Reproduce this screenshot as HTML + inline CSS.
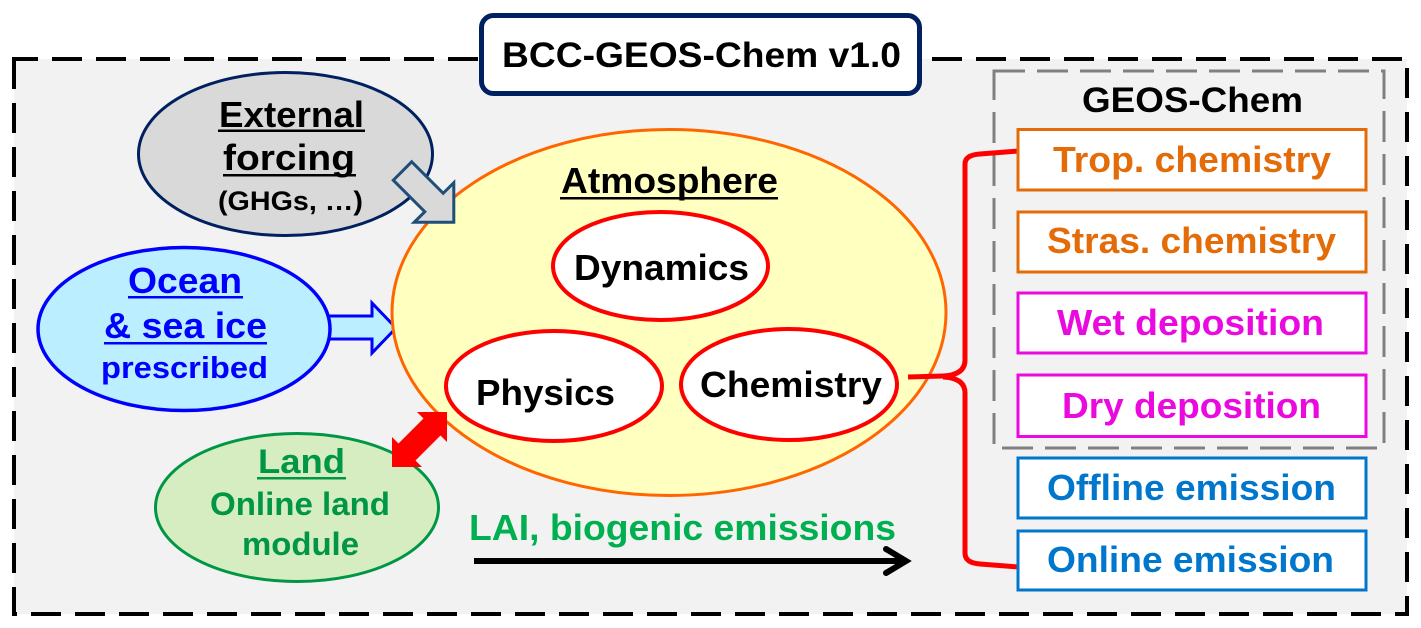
<!DOCTYPE html>
<html>
<head>
<meta charset="utf-8">
<style>
html,body{margin:0;padding:0;background:#ffffff;}
svg{display:block;}
text{font-family:"Liberation Sans",Arial,sans-serif;font-weight:bold;}
</style>
</head>
<body>
<svg width="1421" height="628" viewBox="0 0 1421 628" xmlns="http://www.w3.org/2000/svg">
  <rect x="0" y="0" width="1421" height="628" fill="#ffffff"/>
  <!-- outer dashed frame -->
  <rect x="14" y="59" width="1393" height="555" fill="#f2f2f2" stroke="#000000" stroke-width="4" stroke-dasharray="30 14" stroke-dashoffset="6"/>
  <!-- title box -->
  <rect x="481.5" y="15.5" width="438" height="78" rx="12" ry="12" fill="#ffffff" stroke="#002060" stroke-width="5"/>
  <text x="502" y="67" font-size="35" fill="#000000" textLength="399" lengthAdjust="spacingAndGlyphs">BCC-GEOS-Chem v1.0</text>

  <!-- GEOS-Chem grey dashed box -->
  <rect x="994" y="71" width="390" height="377" fill="none" stroke="#808080" stroke-width="3" stroke-dasharray="31 12"/>

  <!-- External forcing ellipse -->
  <ellipse cx="285.5" cy="154" rx="147" ry="81.5" fill="#d9d9d9" stroke="#002060" stroke-width="3"/>

  <!-- Ocean arrow -->
  <polygon points="318,316 372,316 372,303 396,328 372,353 372,339 318,339" fill="#bbeeff" stroke="#0000ff" stroke-width="3" stroke-linejoin="miter"/>
  <!-- Ocean ellipse -->
  <ellipse cx="184" cy="329" rx="146" ry="81.5" fill="#bbeeff" stroke="#0000ff" stroke-width="3.5"/>

  <!-- Atmosphere ellipse -->
  <ellipse cx="669" cy="312.5" rx="277" ry="183" fill="#ffffc0" stroke="#ff6600" stroke-width="3"/>

  <!-- forcing block arrow -->
  <polygon points="411.7,161.8 443.2,193.3 453.8,182.7 453.8,222.3 414.2,222.3 424.8,211.7 393.3,180.2" fill="#d9d9d9" stroke="#1f4e79" stroke-width="3" stroke-linejoin="miter"/>

  <!-- inner ellipses -->
  <ellipse cx="660.5" cy="266" rx="107.5" ry="54" fill="#ffffff" stroke="#ff0000" stroke-width="4"/>
  <ellipse cx="554" cy="386" rx="108" ry="55" fill="#ffffff" stroke="#ff0000" stroke-width="4"/>
  <ellipse cx="789" cy="384.5" rx="108" ry="55.5" fill="#ffffff" stroke="#ff0000" stroke-width="4"/>

  <!-- Land ellipse -->
  <ellipse cx="297" cy="507.5" rx="141.5" ry="74" fill="#d6edc1" stroke="#009646" stroke-width="3"/>

  <!-- red double arrow -->
  <polygon points="447,412 447,442 440.5,435.5 415.5,460.5 422,467 392,467 392,437 398.5,443.5 423.5,418.5 417,412" fill="#ff0000"/>

  <!-- red brace connector -->
  <g fill="none" stroke="#ff0000" stroke-width="5" stroke-linecap="butt" stroke-linejoin="round">
    <path d="M 908 377 L 943 376 Q 965 375 965 360 L 965 164 Q 965 155 980 154 L 1018 151"/>
    <path d="M 943 377 Q 965 378 965 393 L 965 553 Q 965 563 980 564 L 1018 567"/>
  </g>

  <!-- GEOS-Chem component boxes -->
  <rect x="1018" y="129.5" width="348" height="60.5" fill="#ffffff" stroke="#e36c09" stroke-width="3"/>
  <rect x="1018" y="212" width="348" height="60" fill="#ffffff" stroke="#e36c09" stroke-width="3"/>
  <rect x="1018" y="293" width="348" height="60" fill="#ffffff" stroke="#ea0ae0" stroke-width="3"/>
  <rect x="1018" y="375" width="348" height="61.5" fill="#ffffff" stroke="#ea0ae0" stroke-width="3"/>
  <rect x="1018" y="458" width="348" height="60" fill="#ffffff" stroke="#0077cc" stroke-width="3"/>
  <rect x="1018" y="531" width="348" height="59" fill="#ffffff" stroke="#0077cc" stroke-width="3"/>

  <!-- LAI arrow -->
  <line x1="474" y1="561" x2="905" y2="561" stroke="#000000" stroke-width="6"/>
  <polyline points="886,549 906,561 886,573" fill="none" stroke="#000000" stroke-width="6" stroke-linecap="round" stroke-linejoin="miter"/>

  <!-- Texts: External forcing -->
  <text x="219" y="127" font-size="36" fill="#000000" textLength="145" lengthAdjust="spacingAndGlyphs">External</text>
  <rect x="218" y="129.5" width="147" height="2.5" fill="#000000"/>
  <text x="223" y="170" font-size="36" fill="#000000" textLength="132" lengthAdjust="spacingAndGlyphs">forcing</text>
  <rect x="223" y="174" width="133" height="2.5" fill="#000000"/>
  <text x="218" y="210" font-size="27" fill="#000000" textLength="145" lengthAdjust="spacingAndGlyphs">(GHGs, …)</text>

  <!-- Ocean -->
  <text x="128" y="293" font-size="36" fill="#0000ff" textLength="114" lengthAdjust="spacingAndGlyphs">Ocean</text>
  <rect x="128" y="296" width="115" height="2.5" fill="#0000ff"/>
  <text x="104" y="338" font-size="36" fill="#0000ff" textLength="163" lengthAdjust="spacingAndGlyphs">&amp; sea ice</text>
  <rect x="104" y="342" width="163" height="2.5" fill="#0000ff"/>
  <text x="101" y="378" font-size="31" fill="#0000ff" textLength="167" lengthAdjust="spacingAndGlyphs">prescribed</text>

  <!-- Land -->
  <text x="258" y="473" font-size="34" fill="#009646" textLength="87" lengthAdjust="spacingAndGlyphs">Land</text>
  <rect x="257" y="477" width="89" height="2.5" fill="#009646"/>
  <text x="210" y="515" font-size="32" fill="#009646" textLength="180" lengthAdjust="spacingAndGlyphs">Online land</text>
  <text x="242" y="555" font-size="32" fill="#009646" textLength="117" lengthAdjust="spacingAndGlyphs">module</text>

  <!-- Atmosphere -->
  <text x="561" y="193" font-size="36" fill="#000000" textLength="217" lengthAdjust="spacingAndGlyphs">Atmosphere</text>
  <rect x="560" y="197" width="218" height="2.5" fill="#000000"/>
  <text x="574" y="280" font-size="36" fill="#000000" textLength="175" lengthAdjust="spacingAndGlyphs">Dynamics</text>
  <text x="476" y="405" font-size="36" fill="#000000" textLength="139" lengthAdjust="spacingAndGlyphs">Physics</text>
  <text x="700" y="397" font-size="36" fill="#000000" textLength="182" lengthAdjust="spacingAndGlyphs">Chemistry</text>

  <!-- LAI -->
  <text x="469" y="540" font-size="36" fill="#00b050" textLength="427" lengthAdjust="spacingAndGlyphs">LAI, biogenic emissions</text>

  <!-- GEOS-Chem -->
  <text x="1082" y="112" font-size="35" fill="#000000" textLength="221" lengthAdjust="spacingAndGlyphs">GEOS-Chem</text>
  <text x="1053" y="172" font-size="36" fill="#e36c09" textLength="278" lengthAdjust="spacingAndGlyphs">Trop. chemistry</text>
  <text x="1047" y="253" font-size="36" fill="#e36c09" textLength="289" lengthAdjust="spacingAndGlyphs">Stras. chemistry</text>
  <text x="1057" y="335" font-size="36" fill="#ea0ae0" textLength="267" lengthAdjust="spacingAndGlyphs">Wet deposition</text>
  <text x="1062" y="418" font-size="36" fill="#ea0ae0" textLength="259" lengthAdjust="spacingAndGlyphs">Dry deposition</text>
  <text x="1047" y="500" font-size="36" fill="#0077cc" textLength="289" lengthAdjust="spacingAndGlyphs">Offline emission</text>
  <text x="1047" y="572" font-size="36" fill="#0077cc" textLength="287" lengthAdjust="spacingAndGlyphs">Online emission</text>
</svg>
</body>
</html>
